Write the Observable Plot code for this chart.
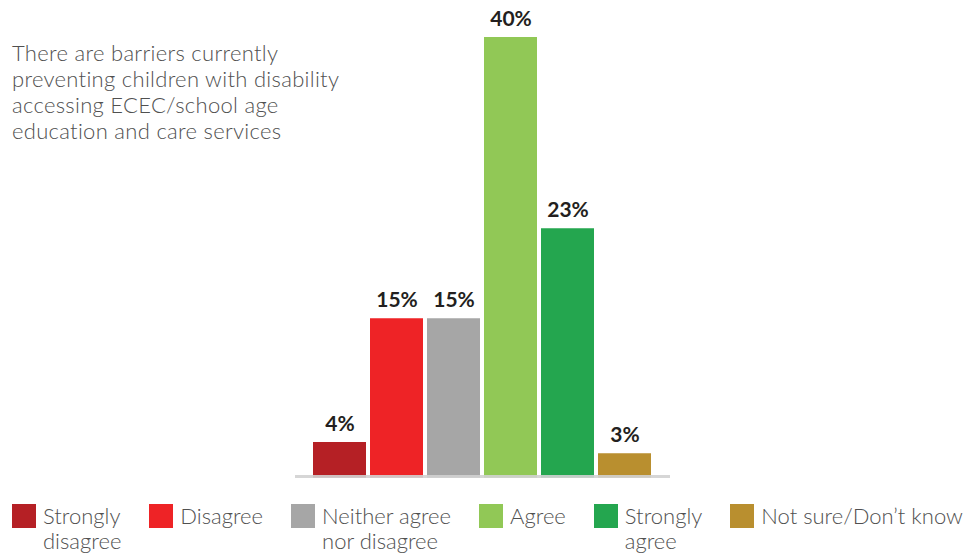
<!DOCTYPE html>
<html><head><meta charset="utf-8">
<script src="https://cdn.jsdelivr.net/npm/d3@7"></script>
<script src="https://cdn.jsdelivr.net/npm/@observablehq/plot@0.6"></script>
<style>
body{margin:0;background:#fff;font-family:Lato,"Open Sans",sans-serif;}
#wrap{position:relative;width:971px;height:558px;overflow:hidden;}
#chart{position:absolute;left:0;top:0;}
#title{position:absolute;left:12px;top:40px;font-size:22px;line-height:26px;font-weight:300;color:#505050;letter-spacing:0.3px;}
#legend{position:absolute;left:12px;top:504px;display:flex;gap:28px;}
.item{display:flex;align-items:flex-start;}
.sw{width:24px;height:24px;margin-right:7px;flex:none;}
.lab{font-size:22px;line-height:25px;font-weight:300;color:#505050;white-space:pre-line;margin-top:-1px;}
</style></head>
<body>
<div id="wrap">
  <div id="chart"></div>
  <div id="title">There are barriers currently<br>preventing children with disability<br>accessing ECEC/school age<br>education and care services</div>
  <div id="legend"></div>
</div>
<script>
const categories = ["Strongly disagree", "Disagree", "Neither agree nor disagree", "Agree", "Strongly agree", "Not sure/Don’t know"];
const values = [4, 15, 15, 40, 23, 3];
const valueLabels = ["4%", "15%", "15%", "40%", "23%", "3%"];
const legendLabels = ["Strongly\ndisagree", "Disagree", "Neither agree\nnor disagree", "Agree", "Strongly\nagree", "Not sure/Don’t know"];
const colors = ["#b52025", "#ee2326", "#a6a6a6", "#91c856", "#24a64f", "#b98f2f"];
const barBase = 0.83;
const axisLevel = 0.98;

const data = categories.map((c, i) => ({category: c, value: values[i], label: valueLabels[i]}));

const chart = Plot.plot({
  width: 971,
  height: 495,
  marginLeft: 295,
  marginRight: 301,
  marginTop: 0,
  marginBottom: 0,
  x: {domain: categories, paddingInner: 0.07, paddingOuter: 0.3, axis: null},
  y: {domain: [0, 40], range: [487, 37], axis: null},
  color: {domain: categories, range: colors},
  style: {fontFamily: "Lato, 'Open Sans', sans-serif", background: "transparent"},
  marks: [
    Plot.barY(data, {x: "category", y1: barBase, y2: "value", fill: "category"}),
    Plot.ruleY([axisLevel], {stroke: "#d2d2d2", strokeWidth: 3, strokeOpacity: 0.9}),
    Plot.text(data, {x: "category", y: "value", text: "label", dy: -12, lineAnchor: "bottom", fontSize: 21, fontWeight: "bold", fill: "#231f20"})
  ]
});
document.getElementById("chart").appendChild(chart);

const legend = document.getElementById("legend");
categories.forEach((c, i) => {
  const item = document.createElement("div");
  item.className = "item";
  const sw = document.createElement("div");
  sw.className = "sw";
  sw.style.background = colors[i];
  const lab = document.createElement("div");
  lab.className = "lab";
  lab.textContent = legendLabels[i];
  item.appendChild(sw);
  item.appendChild(lab);
  legend.appendChild(item);
});
</script>
</body></html>
